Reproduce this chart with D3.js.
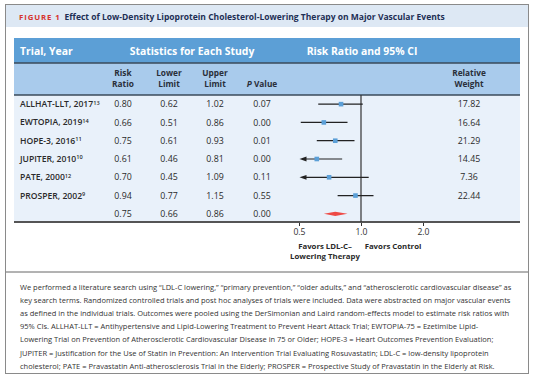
<!DOCTYPE html>
<html><head><meta charset="utf-8">
<script src="https://cdn.jsdelivr.net/npm/d3@7"></script>
<style>
body{margin:0;background:#fff;}
svg{display:block;font-family:"Open Sans",sans-serif;}
</style></head>
<body>
<script>
const trials = ["ALLHAT-LLT, 2017", "EWTOPIA, 2019", "HOPE-3, 2016", "JUPITER, 2010", "PATE, 2000", "PROSPER, 2002", ""];
const refs = ["13", "14", "11", "10", "12", "9", ""];
const riskRatio = [0.80, 0.66, 0.75, 0.61, 0.70, 0.94, 0.75];
const lowerLimit = [0.62, 0.51, 0.61, 0.46, 0.45, 0.77, 0.66];
const upperLimit = [1.02, 0.86, 0.93, 0.81, 1.09, 1.15, 0.86];
const pValue = ["0.07", "0.00", "0.01", "0.00", "0.11", "0.55", "0.00"];
const relWeight = ["17.82", "16.64", "21.29", "14.45", "7.36", "22.44", ""];
const axisTicks = [0.5, 1.0, 2.0];
const captionLines = [
"We performed a literature search using \u201cLDL-C lowering,\u201d \u201cprimary prevention,\u201d \u201colder adults,\u201d and \u201catherosclerotic cardiovascular disease\u201d as",
"key search terms. Randomized controlled trials and post hoc analyses of trials were included. Data were abstracted on major vascular events",
"as defined in the individual trials. Outcomes were pooled using the DerSimonian and Laird random-effects model to estimate risk ratios with",
"95% CIs. ALLHAT-LLT = Antihypertensive and Lipid-Lowering Treatment to Prevent Heart Attack Trial; EWTOPIA-75 = Ezetimibe Lipid-",
"Lowering Trial on Prevention of Atherosclerotic Cardiovascular Disease in 75 or Older; HOPE-3 = Heart Outcomes Prevention Evaluation;",
"JUPITER = Justification for the Use of Statin in Prevention: An Intervention Trial Evaluating Rosuvastatin; LDL-C = low-density lipoprotein",
"cholesterol; PATE = Pravastatin Anti-atherosclerosis Trial in the Elderly; PROSPER = Prospective Study of Pravastatin in the Elderly at Risk."
];

const W = 533, H = 384;
const svg = d3.select("body").append("svg").attr("width", W).attr("height", H);

// outer frame
svg.append("rect").attr("x", 5.5).attr("y", 4.5).attr("width", 523).attr("height", 369)
  .attr("fill", "#fff").attr("stroke", "#8a8a8a").attr("stroke-width", 1);
// title band
svg.append("rect").attr("x", 6).attr("y", 5).attr("width", 522).attr("height", 22).attr("fill", "#dde8f4");
const title = svg.append("text").attr("x", 19).attr("y", 19.5).attr("font-weight", 700);
title.append("tspan").attr("fill", "#d7322c").attr("font-size", 7.8).attr("letter-spacing", 0.9).text("FIGURE 1");
title.append("tspan").attr("dx", 4).attr("fill", "#1d2f55").attr("font-size", 8.5).text("Effect of Low-Density Lipoprotein Cholesterol-Lowering Therapy on Major Vascular Events");

// table geometry
const tL = 14, tR = 520;
const h1Top = 38, h1Bot = 63, h2Bot = 95, dBot = 222;
svg.append("rect").attr("x", tL).attr("y", h1Top).attr("width", tR - tL).attr("height", h1Bot - h1Top).attr("fill", "#5c9fd6");
svg.append("rect").attr("x", tL).attr("y", h1Bot).attr("width", tR - tL).attr("height", h2Bot - h1Bot).attr("fill", "#a9cbec");
svg.append("rect").attr("x", tL).attr("y", h2Bot).attr("width", tR - tL).attr("height", dBot - h2Bot).attr("fill", "#e9f1fa");
[[h1Bot, 1.3, "#3a4a5a"], [h2Bot, 1.3, "#3a4a5a"], [dBot, 2, "#555"]].forEach(([y, w, c]) => {
  svg.append("line").attr("x1", tL).attr("x2", tR).attr("y1", y).attr("y2", y).attr("stroke", c).attr("stroke-width", w);
});

// header row 1
const hdr1 = [["Trial, Year", 20, "start"], ["Statistics for Each Study", 192, "middle"], ["Risk Ratio and 95% CI", 362, "middle"]];
svg.selectAll(".h1").data(hdr1).join("text").attr("x", d => d[1]).attr("y", 51)
  .attr("dy", "0.35em").attr("text-anchor", d => d[2]).attr("fill", "#fff")
  .attr("font-size", 10.4).attr("font-weight", 700).text(d => d[0]);

// column positions
const colX = {rr: 123, lo: 169, up: 215, p: 262, w: 469};
const hdr2 = [[["Risk", "Ratio"], colX.rr], [["Lower", "Limit"], colX.lo], [["Upper", "Limit"], colX.up], [["P Value"], colX.p], [["Relative", "Weight"], colX.w]];
hdr2.forEach(([lines, x]) => {
  const t = svg.append("text").attr("text-anchor", "middle").attr("fill", "#2a2f3a").attr("font-size", 8.3).attr("font-weight", 700);
  if (lines.length === 2) {
    t.append("tspan").attr("x", x).attr("y", 76).text(lines[0]);
    t.append("tspan").attr("x", x).attr("y", 87).text(lines[1]);
  } else {
    t.attr("x", x).attr("y", 87);
    t.append("tspan").attr("font-style", "italic").text("P");
    t.append("tspan").text(" Value");
  }
});

// rows
const idx = d3.range(trials.length);
const y = d3.scaleBand().domain(idx).range([h2Bot, dBot + 1]);
const yc = i => y(i) + y.bandwidth() / 2;

const names = svg.selectAll(".name").data(idx).join("text").attr("x", 20).attr("y", i => yc(i))
  .attr("dy", "0.35em").attr("fill", "#2a2a2a").attr("font-size", 8.6).attr("font-weight", 600);
names.append("tspan").text(i => trials[i]);
names.append("tspan").attr("dy", "-0.45em").attr("font-size", 5.6).text(i => refs[i]);

const numCols = [[riskRatio.map(v => v.toFixed(2)), colX.rr], [lowerLimit.map(v => v.toFixed(2)), colX.lo],
  [upperLimit.map(v => v.toFixed(2)), colX.up], [pValue, colX.p], [relWeight, colX.w]];
numCols.forEach(([vals, x]) => {
  svg.append("g").selectAll("text").data(idx).join("text").attr("x", x).attr("y", i => yc(i))
    .attr("dy", "0.35em").attr("text-anchor", "middle").attr("fill", "#2a2a2a").attr("font-size", 8.8)
    .text(i => vals[i]);
});

// forest plot
const x = d3.scaleLog().domain([0.5, 2]).range([299, 423]);
const studies = idx.slice(0, 6);
const fp = svg.append("g");
fp.append("line").attr("x1", x(1)).attr("x2", x(1)).attr("y1", h2Bot).attr("y2", dBot)
  .attr("stroke", "#333").attr("stroke-width", 1.2);
fp.selectAll(".ci").data(studies).join("line")
  .attr("x1", i => x(Math.max(lowerLimit[i], 0.5)) + (lowerLimit[i] < 0.5 ? 4 : 0))
  .attr("x2", i => x(upperLimit[i])).attr("y1", i => yc(i)).attr("y2", i => yc(i))
  .attr("stroke", "#222").attr("stroke-width", 1.2);
fp.selectAll(".arrow").data(studies.filter(i => lowerLimit[i] < 0.5)).join("path")
  .attr("d", i => { const x0 = x(0.5) + 0.5, yy = yc(i); return `M${x0},${yy}L${x0 + 7},${yy - 2.4}L${x0 + 7},${yy + 2.4}Z`; })
  .attr("fill", "#222");
fp.selectAll(".sq").data(studies).join("rect")
  .attr("x", i => x(riskRatio[i]) - 2.3).attr("y", i => yc(i) - 2.3).attr("width", 4.6).attr("height", 4.6)
  .attr("fill", "#5b9fd7");
const pi = 6;
fp.append("path").attr("d", () => {
  const yy = yc(pi);
  return `M${x(lowerLimit[pi])},${yy}L${x(riskRatio[pi])},${yy - 2.2}L${x(upperLimit[pi])},${yy}L${x(riskRatio[pi])},${yy + 2.2}Z`;
}).attr("fill", "#ee4a45");

// axis
const ax = svg.append("g").attr("transform", `translate(0,${dBot + 1})`)
  .call(d3.axisBottom(x).tickValues(axisTicks).tickFormat(d3.format(".1f")).tickSize(3).tickPadding(3));
ax.select(".domain").remove();
ax.selectAll("line").attr("stroke", "#333");
ax.selectAll("text").attr("font-size", 8.6).attr("fill", "#333").attr("font-family", "Open Sans, sans-serif");

const fav = svg.append("g").attr("font-size", 7.8).attr("font-weight", 700).attr("fill", "#2a2a2a").attr("text-anchor", "middle");
fav.append("text").attr("x", 325).attr("y", 248.5).text("Favors LDL-C\u2013");
fav.append("text").attr("x", 325).attr("y", 258.5).text("Lowering Therapy");
fav.append("text").attr("x", 393).attr("y", 248.5).text("Favors Control");

// divider
svg.append("line").attr("x1", 6).attr("x2", 528).attr("y1", 272).attr("y2", 272).attr("stroke", "#666").attr("stroke-width", 1);

// caption
svg.append("g").selectAll("text").data(captionLines).join("text")
  .attr("x", 20).attr("y", (d, i) => 289.5 + i * 13.2).attr("font-size", 7.5).attr("fill", "#333").text(d => d);
</script>
</body></html>
